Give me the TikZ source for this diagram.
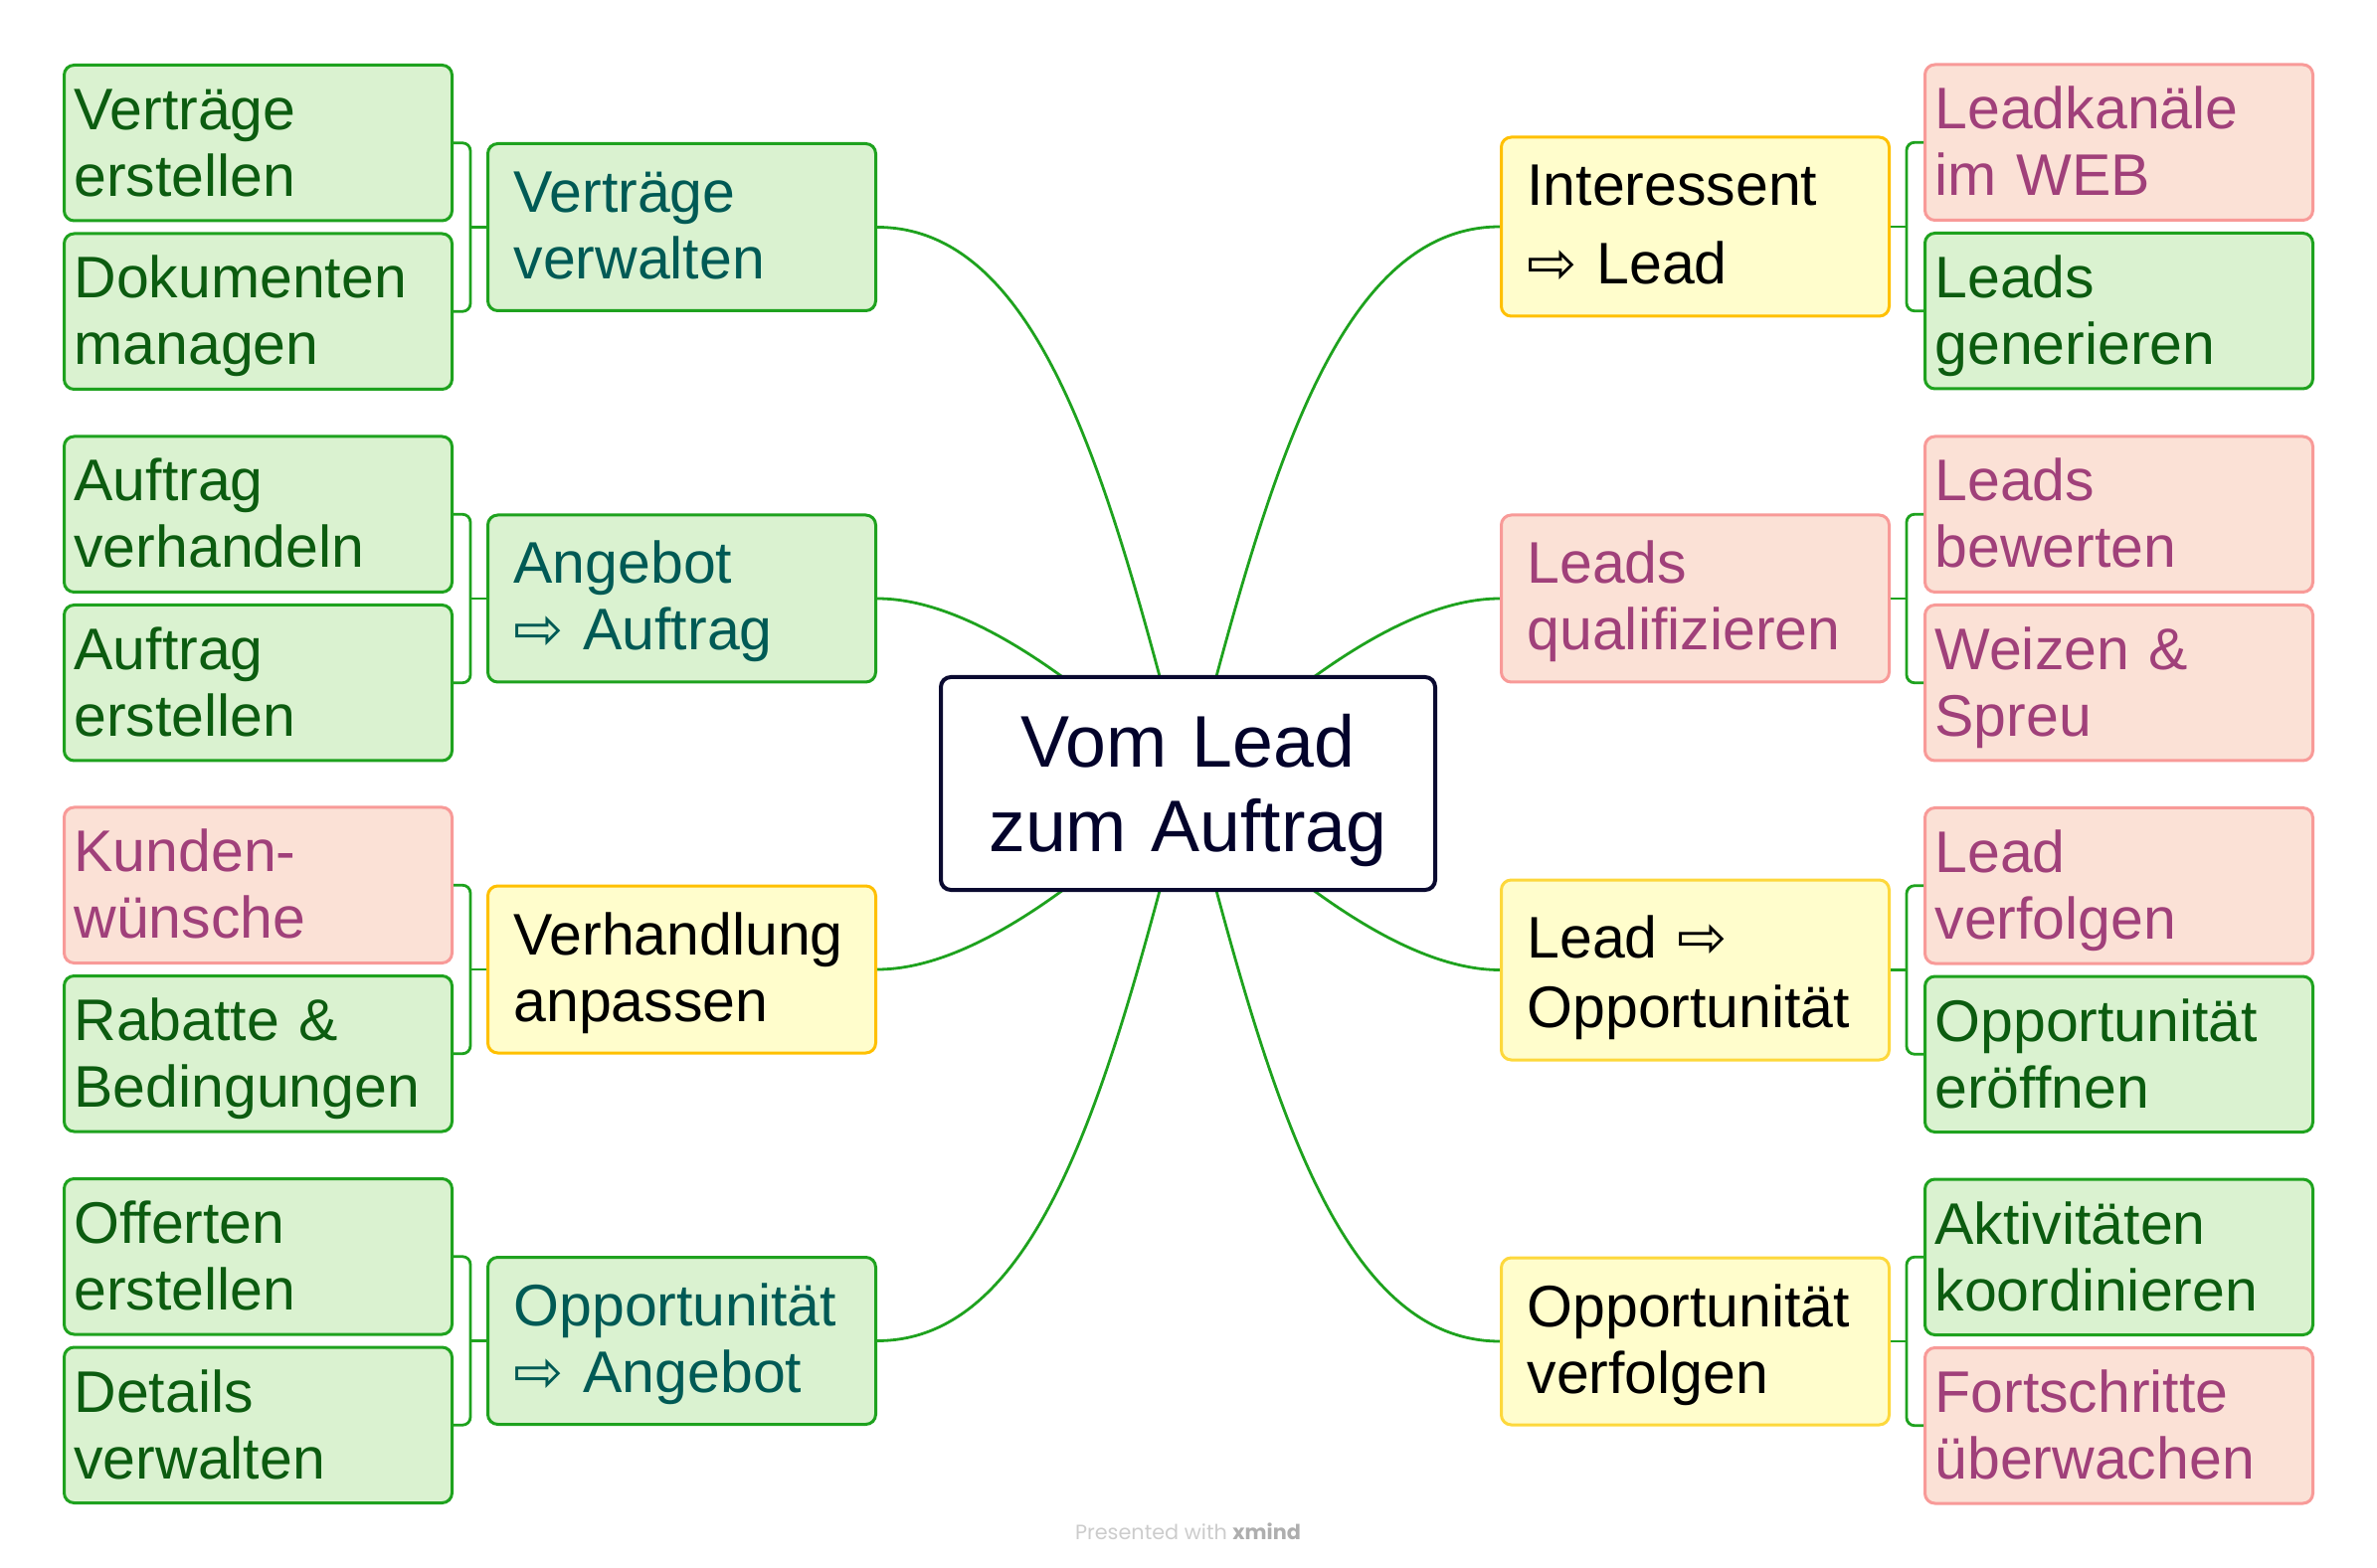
\documentclass[tikz,border=0pt]{standalone}
\usepackage{fontspec}
\setmainfont{Liberation Sans}
\newfontfamily\arrowfont{DejaVu Sans}
\newfontfamily\footfont{Poppins}
\usetikzlibrary{positioning,calc,backgrounds}
\definecolor{grnfill}{HTML}{DAF2D0}
\definecolor{grnline}{HTML}{1EA21E}
\definecolor{grntext}{HTML}{0C5C10}
\definecolor{tealtext}{HTML}{005A55}
\definecolor{pnkfill}{HTML}{FBE1D6}
\definecolor{pnkline}{HTML}{F89A98}
\definecolor{pnktext}{HTML}{A0407A}
\definecolor{yelfill}{HTML}{FFFDCC}
\definecolor{yelline}{HTML}{FFC000}
\definecolor{yellight}{HTML}{FDD83C}
\definecolor{ctrline}{HTML}{0A0A30}
\definecolor{ctrtext}{HTML}{03032B}
\definecolor{footgray}{HTML}{CCCCCC}
\definecolor{footdark}{HTML}{AEAEAE}
\newcommand{\wra}{{\arrowfont\fontsize{30pt}{33.5pt}\selectfont ⇨}}
\tikzset{
    box/.style 2 args={draw,rounded corners=5pt,line width=1.5pt,inner ysep=0pt,align=left,
        font=\fontsize{29.5pt}{33.5pt}\selectfont,
        execute at begin node={\rule{0pt}{#1}},
        execute at end node={\rule[-#2]{0pt}{0pt}}},
    leaf/.style={box={32.5pt}{12.25pt},inner xsep=5pt,text width=185pt},
    topic/.style={box={34.5pt}{16pt},inner xsep=13pt,text width=169pt},
    core/.style={draw=ctrline,fill=white,line width=2pt,rounded corners=5pt,inner sep=0pt,
        text width=248.5pt,align=center,text=ctrtext,font=\fontsize{36.75pt}{42.5pt}\selectfont,
        execute at begin node={\rule{0pt}{45.35pt}},
        execute at end node={\rule[-19.15pt]{0pt}{0pt}}},
    grn/.style={fill=grnfill,draw=grnline,text=grntext},
    teal/.style={grn,text=tealtext},
    pnk/.style={fill=pnkfill,draw=pnkline,text=pnktext},
    yel/.style={fill=yelfill,draw=yelline,text=black},
    yelb/.style={yel,draw=yellight},
    conn/.style={draw=grnline,line width=1.4pt},
    brace/.style={conn,rounded corners=4pt},
}
\begin{document}
\begin{tikzpicture}[x=0.5pt,y=-0.5pt]
    \useasboundingbox (0,0) rectangle (2390,1577);
    \node[core] (ctr) at (1194.5,788) {Vom Lead\\zum Auftrag};

    % left side
    \node[topic,teal,anchor=east] (vv) at (882,228.5) {Verträge\\verwalten};
    \node[topic,teal,anchor=east] (aa) at (882,602) {Angebot\\\wra{} Auftrag};
    \node[topic,yel,anchor=east] (va) at (882,975) {Verhandlung\\anpassen};
    \node[topic,teal,anchor=east] (oa) at (882,1348.5) {Opportunität\\\wra{} Angebot};

    \node[leaf,grn,above left=2.5pt and 16.5pt of vv.west] (ve) {Verträge\\erstellen};
    \node[leaf,grn,below left=2.5pt and 16.5pt of vv.west] (dm) {Dokumenten\\managen};
    \node[leaf,grn,above left=2.5pt and 16.5pt of aa.west] (av) {Auftrag\\verhandeln};
    \node[leaf,grn,below left=2.5pt and 16.5pt of aa.west] (ae) {Auftrag\\erstellen};
    \node[leaf,pnk,above left=2.5pt and 16.5pt of va.west] (kw) {Kunden-\\wünsche};
    \node[leaf,grn,below left=2.5pt and 16.5pt of va.west] (rb) {Rabatte \&\\Bedingungen};
    \node[leaf,grn,above left=2.5pt and 16.5pt of oa.west] (oe) {Offerten\\erstellen};
    \node[leaf,grn,below left=2.5pt and 16.5pt of oa.west] (dv) {Details\\verwalten};

    % right side
    \node[topic,yel,anchor=west] (il) at (1508,228) {Interessent\\[6pt]\wra{} Lead};
    \node[topic,pnk,anchor=west] (lq) at (1508,602) {Leads\\qualifizieren};
    \node[topic,yelb,anchor=west,execute at begin node={\rule{0pt}{39.5pt}}] (lo) at (1508,975.5) {Lead \wra\\[1.5pt]Opportunität};
    \node[topic,yelb,anchor=west] (ov) at (1508,1349) {Opportunität\\verfolgen};

    \node[leaf,pnk,above right=2.5pt and 16.5pt of il.east] (lk) {Leadkanäle\\im WEB};
    \node[leaf,grn,below right=2.5pt and 16.5pt of il.east] (lg) {Leads\\generieren};
    \node[leaf,pnk,above right=2.5pt and 16.5pt of lq.east] (lb) {Leads\\bewerten};
    \node[leaf,pnk,below right=2.5pt and 16.5pt of lq.east] (ws) {Weizen \&\\Spreu};
    \node[leaf,pnk,above right=2.5pt and 16.5pt of lo.east] (lv) {Lead\\verfolgen};
    \node[leaf,grn,below right=2.5pt and 16.5pt of lo.east] (oer) {Opportunität\\eröffnen};
    \node[leaf,grn,above right=2.5pt and 16.5pt of ov.east] (ak) {Aktivitäten\\koordinieren};
    \node[leaf,pnk,below right=2.5pt and 16.5pt of ov.east] (fu) {Fortschritte\\überwachen};

    \foreach \p/\a/\b in {vv/ve/dm,aa/av/ae,va/kw/rb,oa/oe/dv} {
        \draw[brace] (\a.east) -- ++(8.5pt,0) |- (\b.east);
        \draw[conn] (\p.west) -- ++(-8.5pt,0);
    }
    \foreach \p/\a/\b in {il/lk/lg,lq/lb/ws,lo/lv/oer,ov/ak/fu} {
        \draw[brace] (\a.west) -- ++(-8.5pt,0) |- (\b.west);
        \draw[conn] (\p.east) -- ++(8.5pt,0);
    }

    \begin{scope}[on background layer]
        \draw[conn] (vv.east) .. controls +(170,0) and ($(ctr.center)+(-75,-285)$) .. (ctr.center);
        \draw[conn] (aa.east) .. controls +(94,0) and ($(ctr.center)+(-105,-100)$) .. (ctr.center);
        \draw[conn] (va.east) .. controls +(94,0) and ($(ctr.center)+(-105,100)$) .. (ctr.center);
        \draw[conn] (oa.east) .. controls +(170,0) and ($(ctr.center)+(-75,285)$) .. (ctr.center);
        \draw[conn] (il.west) .. controls +(-170,0) and ($(ctr.center)+(75,-285)$) .. (ctr.center);
        \draw[conn] (lq.west) .. controls +(-94,0) and ($(ctr.center)+(105,-100)$) .. (ctr.center);
        \draw[conn] (lo.west) .. controls +(-94,0) and ($(ctr.center)+(105,100)$) .. (ctr.center);
        \draw[conn] (ov.west) .. controls +(-170,0) and ($(ctr.center)+(75,285)$) .. (ctr.center);
    \end{scope}

    \node[font=\footfont\fontsize{10.4pt}{12pt}\selectfont,text=footgray] (ft) at (1194.5,1540)
        {Presented with {\color{footdark}\bfseries xmind}};
\end{tikzpicture}
\end{document}
